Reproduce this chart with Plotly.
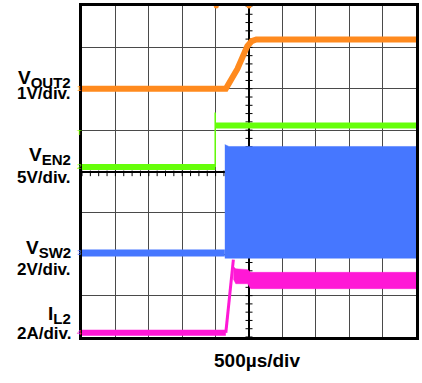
import plotly.graph_objects as go

# ---------------- data (time in ms relative to screen centre, 500 us/div) ----------------
# VOUT2 (V, 1 V/div)
t_vout = [-2.5, -0.347, -0.174, -0.025, 0.04, 0.11, 2.5]
v_vout = [0.0, 0.0, 0.48, 1.03, 1.15, 1.19, 1.19]

# VEN2 (V, 5 V/div)
t_en_low = [-2.5, -0.506]
v_en_low = [0.0, 0.0]
t_en_high = [-0.506, 2.5]
v_en_high = [5.03, 5.03]
t_en_edge = [-0.506, -0.506]
v_en_edge = [0.0, 6.6]

# VSW2 (V, 2 V/div) : idle level, then switching envelope
t_sw_idle = [-2.5, -0.362]
v_sw_idle = [0.0, 0.0]
t_sw_env_top = [-0.362, -0.34, -0.30, 2.5]
v_sw_env_top = [5.24, 5.2, 5.15, 5.15]
t_sw_env_bot = [2.5, -0.30, -0.362]
v_sw_env_bot = [-0.25, -0.25, -0.25]

# IL2 (A, 2 A/div)
t_il_idle = [-2.5, -0.347]
i_il_idle = [0.0, 0.0]
t_il_ramp = [-0.347, -0.234]
i_il_ramp = [0.0, 3.53]
t_il_env_top = [-0.234, -0.198, -0.02, 0.025, 2.5]
i_il_env_top = [3.2, 3.09, 3.05, 2.92, 2.92]
t_il_env_bot = [2.5, 0.025, -0.02, -0.198, -0.234]
i_il_env_bot = [2.13, 2.13, 2.37, 2.37, 2.6]

# screen: 10 x 8 divisions; per-channel ground offsets (div from bottom) and units per div
DIV_X = 0.5
CH = {
    "vout": (6.0, 1.0),
    "en": (4.108, 5.0),
    "sw": (2.03, 2.0),
    "il": (0.103, 2.0),
}

ORANGE = "#FF8A1E"
GREEN = "#66FF0A"
BLUE = "#4677FF"
MAGENTA = "#FF18D6"

fig = go.Figure()

def rng(name):
    z, s = CH[name]
    return [-z * s, (8 - z) * s]

# centre graticule ticks (grid axis in divisions)
tick_x = [(-2.5 + k * DIV_X / 4) for k in range(41)]
tick_y = [(-4 + k * 0.2) for k in range(41)]
fig.add_trace(go.Scatter(x=tick_x, y=[-0.045] * len(tick_x), mode="markers", xaxis="x", yaxis="y",
                         marker=dict(symbol="line-ns", size=4, line=dict(color="black", width=1)),
                         hoverinfo="skip", showlegend=False))
fig.add_trace(go.Scatter(x=[0] * len(tick_y), y=tick_y, mode="markers", xaxis="x", yaxis="y",
                         marker=dict(symbol="line-ew", size=5, line=dict(color="black", width=1)),
                         hoverinfo="skip", showlegend=False))

# VEN2
fig.add_trace(go.Scatter(x=t_en_low, y=v_en_low, yaxis="y3", mode="lines",
                         line=dict(color=GREEN, width=6), showlegend=False))
fig.add_trace(go.Scatter(x=t_en_high, y=v_en_high, yaxis="y3", mode="lines",
                         line=dict(color=GREEN, width=6), showlegend=False))
fig.add_trace(go.Scatter(x=t_en_edge, y=v_en_edge, yaxis="y3", mode="lines",
                         line=dict(color=GREEN, width=1.5), showlegend=False))

# VSW2
fig.add_trace(go.Scatter(x=t_sw_idle, y=v_sw_idle, yaxis="y4", mode="lines",
                         line=dict(color=BLUE, width=7), showlegend=False))
fig.add_trace(go.Scatter(x=t_sw_env_top + t_sw_env_bot, y=v_sw_env_top + v_sw_env_bot, yaxis="y4",
                         mode="lines", fill="toself", fillcolor=BLUE,
                         line=dict(color=BLUE, width=0.5), showlegend=False))

# IL2
fig.add_trace(go.Scatter(x=t_il_idle, y=i_il_idle, yaxis="y5", mode="lines",
                         line=dict(color=MAGENTA, width=6), showlegend=False))
fig.add_trace(go.Scatter(x=t_il_ramp, y=i_il_ramp, yaxis="y5", mode="lines",
                         line=dict(color=MAGENTA, width=3), showlegend=False))
fig.add_trace(go.Scatter(x=t_il_env_top + t_il_env_bot, y=i_il_env_top + i_il_env_bot, yaxis="y5",
                         mode="lines", fill="toself", fillcolor=MAGENTA,
                         line=dict(color=MAGENTA, width=0.5), showlegend=False))

# VOUT2
fig.add_trace(go.Scatter(x=t_vout, y=v_vout, yaxis="y2", mode="lines",
                         line=dict(color=ORANGE, width=6), showlegend=False))

# trigger markers on the top edge
fig.add_trace(go.Scatter(x=[-0.49, 0.0], y=[4, 4], mode="markers", cliponaxis=False,
                         marker=dict(color=ORANGE, size=5), showlegend=False))

W, H = 422, 383
L, R, T, B = 82, 4, 3, 46
PW, PH = W - L - R, H - T - B

def xp(px):
    return (px - L) / PW

def yp(py):
    return (H - B - py) / PH

FAM = "Liberation Sans, Arial, sans-serif"
font = dict(family=FAM, size=17, color="black")
SUB = "<span style='font-size:19px'>%s</span><sub><span style='font-size:15px'>%s</span></sub>"
labels = [
    (SUB % ("V", "OUT2"), 77), ("1V/div.", 91),
    (SUB % ("V", "EN2"), 154.5), ("5V/div.", 176),
    (SUB % ("V", "SW2"), 248.5), ("2V/div.", 268.5),
    (SUB % ("I", "L2"), 314.5), ("2A/div.", 333.5),
]
ann = []
for txt, py in labels:
    ann.append(dict(text="<b>" + txt + "</b>", x=xp(73), y=yp(py), xref="paper", yref="paper",
                    xanchor="right", yanchor="middle", showarrow=False, font=font, align="right"))
ann.append(dict(text="<b>500µs/div</b>", x=xp(258), y=yp(361), xref="paper", yref="paper",
                xanchor="center", yanchor="middle", showarrow=False,
                font=dict(family=FAM, size=19, color="black")))
small = [("1", ORANGE, 86), ("T", GREEN, 131), ("2", GREEN, 165), ("3", BLUE, 252), ("4", MAGENTA, 332)]
for txt, col, py in small:
    ann.append(dict(text=txt, x=xp(79), y=yp(py), xref="paper", yref="paper", xanchor="center",
                    yanchor="middle", showarrow=False,
                    font=dict(family=FAM, size=8, color=col)))

grid_col = "#4a4a4a"
fig.update_layout(
    width=W, height=H,
    margin=dict(l=L, r=R, t=T, b=B),
    paper_bgcolor="white", plot_bgcolor="white",
    annotations=ann,
    xaxis=dict(range=[-2.5, 2.5], dtick=DIV_X, tick0=0, showgrid=True, gridcolor=grid_col, gridwidth=1.2,
               zeroline=True, zerolinecolor="black", zerolinewidth=1.5,
               showticklabels=False, ticks="", showline=True, linecolor="black", linewidth=3,
               mirror=True, fixedrange=True),
    yaxis=dict(range=[-4, 4], dtick=1, tick0=0, showgrid=True, gridcolor=grid_col, gridwidth=1.2,
               zeroline=True, zerolinecolor="black", zerolinewidth=1.5,
               showticklabels=False, ticks="", showline=True, linecolor="black", linewidth=3,
               mirror=True, fixedrange=True),
    yaxis2=dict(range=rng("vout"), overlaying="y", visible=False),
    yaxis3=dict(range=rng("en"), overlaying="y", visible=False),
    yaxis4=dict(range=rng("sw"), overlaying="y", visible=False),
    yaxis5=dict(range=rng("il"), overlaying="y", visible=False),
)

fig.write_html("out.html", config={"displayModeBar": False},
               post_script="document.body.style.margin='0';")
